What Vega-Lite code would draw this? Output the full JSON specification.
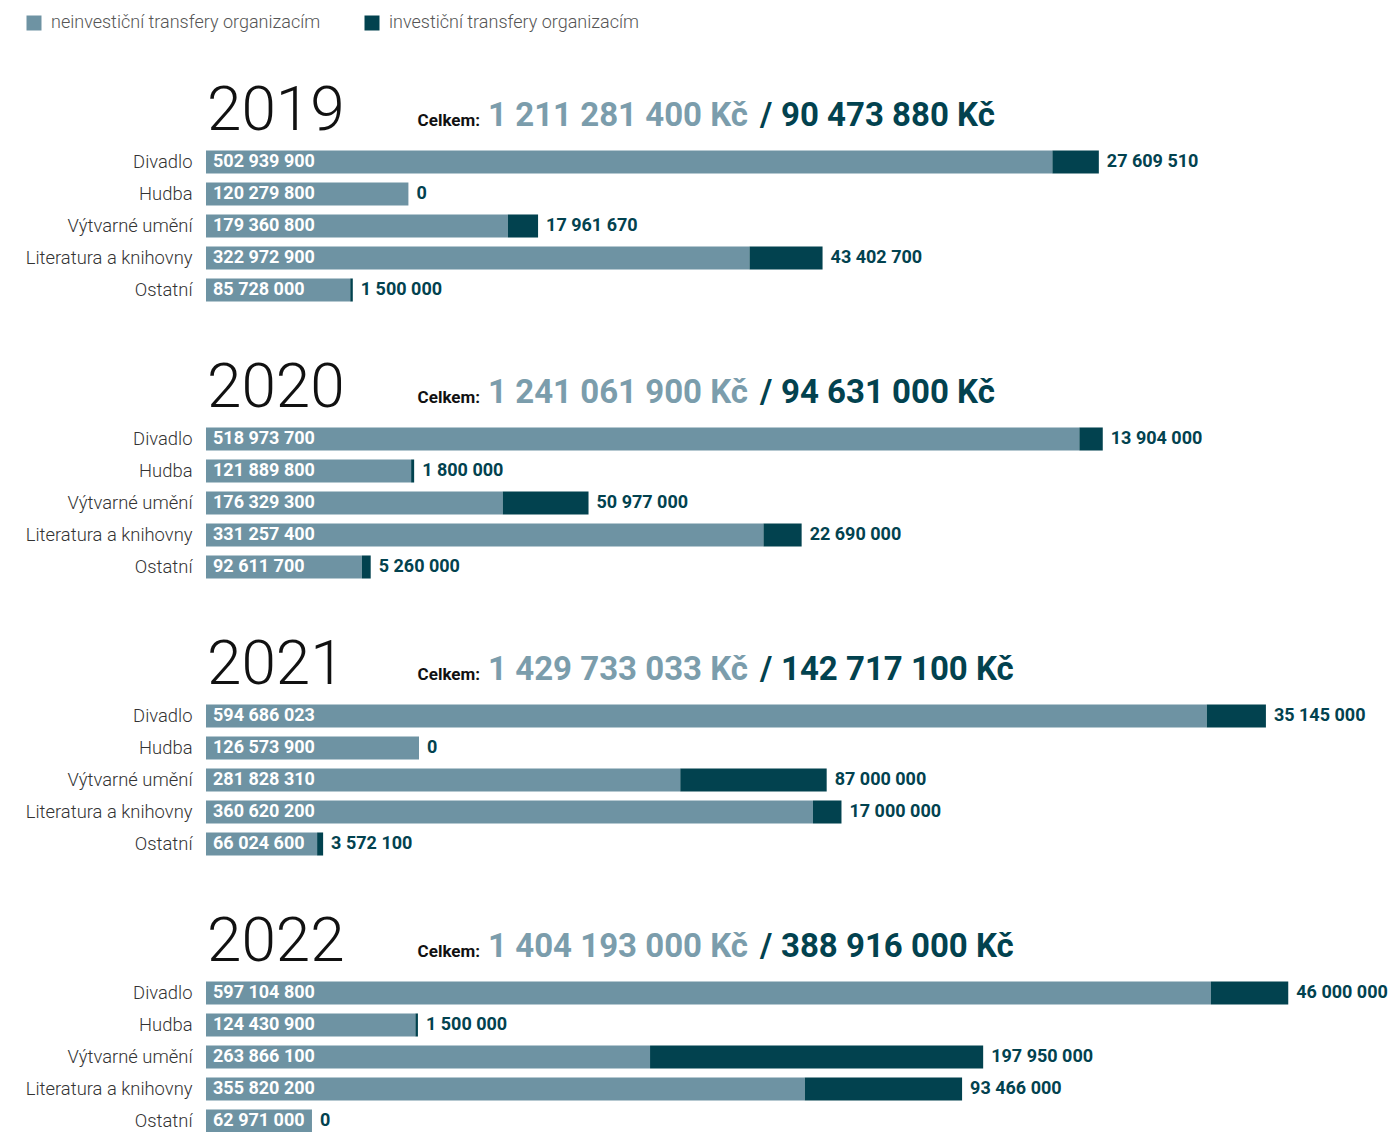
{
  "$schema": "https://vega.github.io/schema/vega-lite/v6.json",
  "padding": {"left": 25, "top": 14, "right": 0, "bottom": 0},
  "autosize": {"type": "pad"},
  "bounds": "flush",
  "config": {
    "locale": {"number": {"decimal": ",", "thousands": " ", "grouping": [3], "currency": ["", " Kč"]}},
    "view": {"stroke": null},
    "font": "Roboto"
  },
  "data": {"values": [
    {"year": 2019, "cat": "_title", "non": 1211281400, "inv": 90473880},
    {"year": 2019, "cat": "Divadlo", "non": 502939900, "inv": 27609510},
    {"year": 2019, "cat": "Hudba", "non": 120279800, "inv": 0},
    {"year": 2019, "cat": "Výtvarné umění", "non": 179360800, "inv": 17961670},
    {"year": 2019, "cat": "Literatura a knihovny", "non": 322972900, "inv": 43402700},
    {"year": 2019, "cat": "Ostatní", "non": 85728000, "inv": 1500000},
    {"year": 2020, "cat": "_title", "non": 1241061900, "inv": 94631000},
    {"year": 2020, "cat": "Divadlo", "non": 518973700, "inv": 13904000},
    {"year": 2020, "cat": "Hudba", "non": 121889800, "inv": 1800000},
    {"year": 2020, "cat": "Výtvarné umění", "non": 176329300, "inv": 50977000},
    {"year": 2020, "cat": "Literatura a knihovny", "non": 331257400, "inv": 22690000},
    {"year": 2020, "cat": "Ostatní", "non": 92611700, "inv": 5260000},
    {"year": 2021, "cat": "_title", "non": 1429733033, "inv": 142717100},
    {"year": 2021, "cat": "Divadlo", "non": 594686023, "inv": 35145000},
    {"year": 2021, "cat": "Hudba", "non": 126573900, "inv": 0},
    {"year": 2021, "cat": "Výtvarné umění", "non": 281828310, "inv": 87000000},
    {"year": 2021, "cat": "Literatura a knihovny", "non": 360620200, "inv": 17000000},
    {"year": 2021, "cat": "Ostatní", "non": 66024600, "inv": 3572100},
    {"year": 2022, "cat": "_title", "non": 1404193000, "inv": 388916000},
    {"year": 2022, "cat": "Divadlo", "non": 597104800, "inv": 46000000},
    {"year": 2022, "cat": "Hudba", "non": 124430900, "inv": 1500000},
    {"year": 2022, "cat": "Výtvarné umění", "non": 263866100, "inv": 197950000},
    {"year": 2022, "cat": "Literatura a knihovny", "non": 355820200, "inv": 93466000},
    {"year": 2022, "cat": "Ostatní", "non": 62971000, "inv": 0}
  ]},
  "facet": {"row": {"field": "year", "type": "ordinal", "header": null}},
  "spacing": 85,
  "resolve": {"scale": {"x": "shared", "y": "shared"}},
  "spec": {
    "width": 1178,
    "height": {"step": 32},
    "encoding": {
      "y": {
        "field": "cat", "type": "nominal", "title": null,
        "scale": {"domain": ["_title", "Divadlo", "Hudba", "Výtvarné umění", "Literatura a knihovny", "Ostatní"], "paddingInner": 0.28, "paddingOuter": 0.14},
        "axis": {"domain": false, "ticks": false, "grid": false, "labelPadding": 14, "labelFontSize": 18.4, "labelFont": "Roboto", "labelFontWeight": 300, "labelColor": "#333333", "labelExpr": "datum.value == '_title' ? '' : datum.value"}
      }
    },
    "layer": [
      {
        "transform": [
          {"filter": "datum.cat != '_title'"},
          {"fold": ["non", "inv"], "as": ["type", "value"]},
          {"stack": "value", "groupby": ["year", "cat"], "sort": [{"field": "type", "order": "descending"}], "as": ["v0", "v1"]}
        ],
        "mark": {"type": "bar"},
        "encoding": {
          "x": {"field": "v0", "type": "quantitative", "scale": {"domain": [0, 700000000], "nice": false, "zero": true}, "axis": null},
          "x2": {"field": "v1"},
          "color": {
            "field": "type", "type": "nominal",
            "scale": {"domain": ["non", "inv"], "range": ["#6e93a3", "#02424f"]},
            "legend": {"orient": "none", "legendX": -181, "legendY": -100, "direction": "horizontal", "title": null, "symbolType": "square", "symbolSize": 225, "symbolStrokeWidth": 0, "labelFontSize": 18, "labelFont": "Roboto", "labelFontWeight": 300, "labelColor": "#555555", "labelOffset": 8, "labelLimit": 0, "columnPadding": 42, "labelExpr": "datum.value == 'non' ? 'neinvestiční transfery organizacím' : 'investiční transfery organizacím'"}
          }
        }
      },
      {
        "transform": [
          {"filter": "datum.cat != '_title'"}
        ],
        "mark": {"type": "text", "align": "left", "baseline": "middle", "dx": 7, "fontSize": 18, "fontWeight": "bold", "fill": "#ffffff"},
        "encoding": {
          "x": {"datum": 0, "type": "quantitative"},
          "text": {"field": "non", "type": "quantitative", "format": ",d"}
        }
      },
      {
        "transform": [
          {"filter": "datum.cat != '_title'"},
          {"fold": ["non", "inv"], "as": ["type", "value"]},
          {"stack": "value", "groupby": ["year", "cat"], "sort": [{"field": "type", "order": "descending"}], "as": ["v0", "v1"]},
          {"filter": "datum.type == 'inv'"}
        ],
        "mark": {"type": "text", "align": "left", "baseline": "middle", "dx": 8, "fontSize": 18, "fontWeight": "bold", "fill": "#02424f"},
        "encoding": {
          "x": {"field": "v1", "type": "quantitative"},
          "text": {"field": "value", "type": "quantitative", "format": ",d"}
        }
      },
      {
        "transform": [{"filter": "datum.cat == '_title'"}],
        "mark": {"type": "text", "align": "left", "baseline": "alphabetic", "dx": 1, "fontSize": 62, "fontWeight": 300, "fill": "#111111"},
        "encoding": {
          "x": {"datum": 0, "type": "quantitative"},
          "text": {"field": "year", "type": "nominal"}
        }
      },
      {
        "transform": [{"filter": "datum.cat == '_title'"}],
        "mark": {"type": "text", "align": "right", "baseline": "alphabetic", "dx": 274, "dy": -4, "fontSize": 17, "fontWeight": "bold", "fill": "#111111", "text": "Celkem:"},
        "encoding": {
          "x": {"datum": 0, "type": "quantitative"}
        }
      },
      {
        "transform": [{"filter": "datum.cat == '_title'"}],
        "mark": {"type": "text", "align": "right", "baseline": "alphabetic", "dx": 542, "dy": -4, "fontSize": 33, "fontWeight": "bold", "fill": "#7b9dac"},
        "encoding": {
          "x": {"datum": 0, "type": "quantitative"},
          "text": {"field": "non", "type": "quantitative", "format": "$,d"}
        }
      },
      {
        "transform": [{"filter": "datum.cat == '_title'"}],
        "mark": {"type": "text", "align": "left", "baseline": "alphabetic", "dx": 554, "dy": -4, "fontSize": 33, "fontWeight": "bold", "fill": "#02424f", "text": "/"},
        "encoding": {
          "x": {"datum": 0, "type": "quantitative"}
        }
      },
      {
        "transform": [{"filter": "datum.cat == '_title'"}],
        "mark": {"type": "text", "align": "left", "baseline": "alphabetic", "dx": 575, "dy": -4, "fontSize": 33, "fontWeight": "bold", "fill": "#02424f"},
        "encoding": {
          "x": {"datum": 0, "type": "quantitative"},
          "text": {"field": "inv", "type": "quantitative", "format": "$,d"}
        }
      }
    ]
  }
}
